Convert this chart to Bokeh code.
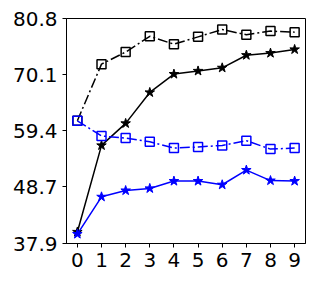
from bokeh.plotting import figure
from bokeh.models import FixedTicker, Range1d
from bokeh.embed import file_html
from bokeh.resources import INLINE

x = list(range(10))
black_sq = [61.3, 72.1, 74.4, 77.4, 75.9, 77.3, 78.7, 77.7, 78.4, 78.2]
black_star = [40.1, 56.6, 60.8, 66.7, 70.2, 70.8, 71.4, 73.8, 74.2, 74.9]
blue_sq = [61.3, 58.4, 58.0, 57.3, 56.1, 56.3, 56.6, 57.5, 55.9, 56.1]
blue_star = [39.7, 46.8, 48.0, 48.4, 49.8, 49.8, 49.1, 51.9, 49.9, 49.8]
y_ticks = [37.9, 48.7, 59.4, 70.1, 80.8]
x_ticks = list(range(10))

p = figure(width=313, height=278, output_backend="svg", toolbar_location=None,
           x_range=Range1d(-0.45, 9.45), y_range=Range1d(37.9, 80.8),
           min_border_left=66, min_border_right=8, min_border_top=18, min_border_bottom=35)
p.xgrid.visible = False
p.ygrid.visible = False
p.outline_line_color = "black"
p.outline_line_alpha = 1.0
p.outline_line_width = 1

for ax in (p.xaxis, p.yaxis):
    ax.axis_line_color = "black"
    ax.major_tick_line_color = "black"
    ax.major_tick_out = 4
    ax.major_tick_in = 0
    ax.minor_tick_line_color = None
    ax.major_label_text_font = "DejaVu Sans"
    ax.major_label_text_font_size = "20px"
    ax.major_label_text_color = "black"
    ax.major_label_standoff = 5

p.xaxis.ticker = FixedTicker(ticks=x_ticks)
p.yaxis.ticker = FixedTicker(ticks=y_ticks)
p.yaxis.major_label_overrides = {t: f"{t:.1f}" for t in y_ticks}

dd = "10 3 2 3"
p.line(x, black_sq, line_color="black", line_width=1.5, line_dash=dd)
p.scatter(x, black_sq, marker="square", size=9, fill_color=None, line_color="black", line_width=1.5)
p.line(x, black_star, line_color="black", line_width=1.5)
p.scatter(x, black_star, marker="star", size=10, fill_color="black", line_color="black")
p.line(x, blue_sq, line_color="blue", line_width=1.5, line_dash=dd)
p.scatter(x, blue_sq, marker="square", size=9, fill_color=None, line_color="blue", line_width=1.5)
p.line(x, blue_star, line_color="blue", line_width=1.5)
p.scatter(x, blue_star, marker="star", size=10, fill_color="blue", line_color="blue")

open("out.html", "w").write(file_html(p, INLINE))
